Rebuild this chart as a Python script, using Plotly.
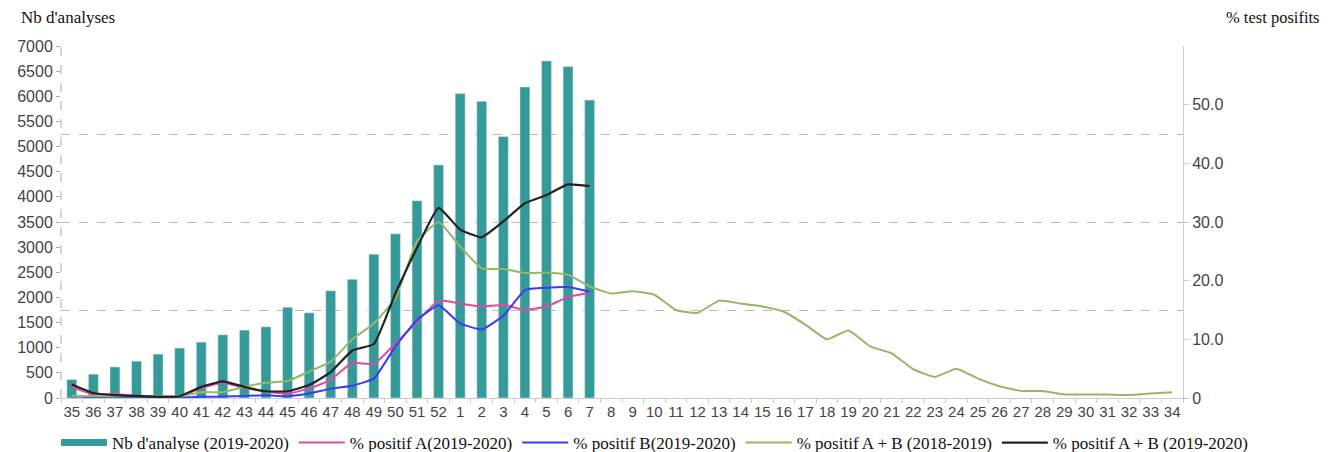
import plotly.graph_objects as go

weeks = [str(w) for w in list(range(35, 53)) + list(range(1, 35))]
weeks_1920 = weeks[:25]  # 35 .. 7

nb_analyses = [367, 474, 618, 733, 873, 993, 1111, 1257, 1350, 1416, 1806, 1693,
               2134, 2361, 2860, 3266, 3924, 4636, 6053, 5900, 5201, 6185, 6703,
               6591, 5925]

pct_a_1920 = [1.9, 0.6, 0.7, 0.35, 0.2, 0.25, 1.7, 2.6, 1.7, 1.1, 0.75, 1.6,
              3.1, 6.0, 5.8, 9.3, 13.0, 16.6, 16.1, 15.6, 15.85, 15.0, 15.6,
              17.2, 18.0]

pct_b_1920 = [0.3, 0.15, 0.2, 0.1, 0.1, 0.1, 0.2, 0.25, 0.35, 0.45, 0.3, 0.75,
              1.6, 2.1, 3.3, 8.8, 13.3, 15.8, 12.7, 11.7, 14.0, 18.4, 18.8,
              18.9, 18.1]

pct_ab_1819 = [0.4, 0.3, 0.3, 0.3, 0.3, 0.3, 1.0, 1.0, 1.9, 2.6, 2.9, 4.5,
               6.2, 10.0, 12.7, 17.0, 26.7, 30.0, 25.8, 22.1, 22.0, 21.3, 21.4,
               21.0, 19.0, 17.8, 18.2, 17.6, 15.0, 14.5, 16.6, 16.1, 15.6, 14.7,
               12.5, 10.0, 11.5, 8.8, 7.6, 4.9, 3.6, 5.0, 3.3, 2.0, 1.2, 1.2,
               0.6, 0.6, 0.6, 0.5, 0.75, 1.0]

pct_ab_1920 = [2.3, 0.85, 0.5, 0.35, 0.2, 0.3, 1.9, 2.85, 1.9, 1.15, 1.15, 2.2,
               4.4, 8.1, 9.2, 17.8, 25.6, 32.4, 28.7, 27.4, 30.1, 33.2, 34.6,
               36.4, 36.1]

left_ticks = list(range(0, 7001, 500))
right_ticks = [0, 10, 20, 30, 40, 50]
right_ticktext = ["0", "10.0", "20.0", "30.0", "40.0", "50.0"]

TEAL = "#359a98"
PINK = "#de4aa6"
BLUE = "#3b3bf5"
GREEN = "#94b865"
BLACK = "#222222"

serif = "Liberation Serif"
sans = "Liberation Sans"

# page body has an 8px margin: figure is placed at (8, 8)
OFF = 8
W, H = 1331 - OFF, 452 - OFF
L, T = 61 - OFF, 46 - OFF
R, B = 1331 - 1183, 452 - 398
PW, PH = W - L - R, H - T - B

fig = go.Figure()

fig.add_trace(go.Bar(x=weeks_1920, y=nb_analyses, marker_color=TEAL,
                     name="Nb d'analyse (2019-2020)", showlegend=False,
                     hoverinfo="x+y", yaxis="y"))
# legend proxy for bars (thick line symbol like reference)
fig.add_trace(go.Scatter(x=[None], y=[None], mode="lines",
                         line=dict(color=TEAL, width=7),
                         name="Nb d'analyse (2019-2020)", yaxis="y2"))
# anchor trace for gridline axis
fig.add_trace(go.Scatter(x=[None], y=[None], mode="lines", showlegend=False,
                         hoverinfo="skip", yaxis="y3"))

line_kw = dict(mode="lines", yaxis="y2")
fig.add_trace(go.Scatter(x=weeks_1920, y=pct_a_1920, name="% positif A(2019-2020)",
                         line=dict(color=PINK, width=2, shape="spline", smoothing=0.4), **line_kw))
fig.add_trace(go.Scatter(x=weeks_1920, y=pct_b_1920, name="% positif B(2019-2020)",
                         line=dict(color=BLUE, width=2, shape="spline", smoothing=0.4), **line_kw))
fig.add_trace(go.Scatter(x=weeks, y=pct_ab_1819, name="% positif A + B (2018-2019)",
                         line=dict(color=GREEN, width=2, shape="spline", smoothing=0.4), **line_kw))
fig.add_trace(go.Scatter(x=weeks_1920, y=pct_ab_1920, name="% positif A + B (2019-2020)",
                         line=dict(color=BLACK, width=2.2, shape="spline", smoothing=0.4), **line_kw))

tickfont = dict(family=sans, size=16, color="#444444")

fig.update_layout(
    width=W, height=H,
    margin=dict(l=L, r=R, t=T, b=B, autoexpand=False),
    paper_bgcolor="white", plot_bgcolor="rgba(0,0,0,0)",
    bargap=0.54,
    xaxis=dict(type="category", categoryorder="array", categoryarray=weeks,
               range=[-0.5, len(weeks) - 0.5],
               showgrid=False, showline=True, linecolor="#cccccc", linewidth=1,
               ticks="outside", tickson="boundaries", ticklen=4, tickcolor="#cccccc",
               tickangle=0, tickfont=dict(family=sans, size=15, color="#444444"),
               fixedrange=True),
    yaxis=dict(range=[0, 7000], tickvals=left_ticks, showgrid=False, zeroline=False,
               showline=False, ticks="outside", ticklen=4, tickcolor="#aaaaaa",
               tickfont=tickfont),
    yaxis2=dict(range=[0, 60], overlaying="y", side="right", tickvals=right_ticks,
                ticktext=right_ticktext, showgrid=False, zeroline=False,
                showline=True, linecolor="#cccccc", linewidth=1,
                ticks="outside", ticklen=5, tickcolor="#cccccc", tickfont=tickfont),
    yaxis3=dict(range=[0, 4], dtick=1, overlaying="y", showticklabels=False,
                showgrid=True, gridcolor="#bbbbbb", griddash="dash", gridwidth=1,
                zeroline=False, showline=False, ticks=""),
    legend=dict(orientation="h", x=(1254 - 61) / PW, xanchor="right",
                y=-(443 - 398) / PH, yanchor="middle", itemwidth=46,
                font=dict(family=serif, size=17, color="#111111"),
                bgcolor="rgba(0,0,0,0)"),
    showlegend=True,
)

# dashed left axis line
fig.add_shape(type="line", xref="paper", yref="paper", x0=0, x1=0, y0=0, y1=1,
              line=dict(color="#aaaaaa", width=1, dash="dash"))

fig.add_annotation(text="Nb d'analyses", xref="paper", yref="paper",
                   x=(19 - 61) / PW, y=1 + (46 - 18) / PH, xanchor="left", yanchor="middle",
                   showarrow=False, font=dict(family=serif, size=17, color="#111111"))
fig.add_annotation(text="% test posifits", xref="paper", yref="paper",
                   x=(1322 - 61) / PW, y=1 + (46 - 18) / PH, xanchor="right", yanchor="middle",
                   showarrow=False, font=dict(family=serif, size=16.5, color="#111111"))

fig.write_html("out.html")
